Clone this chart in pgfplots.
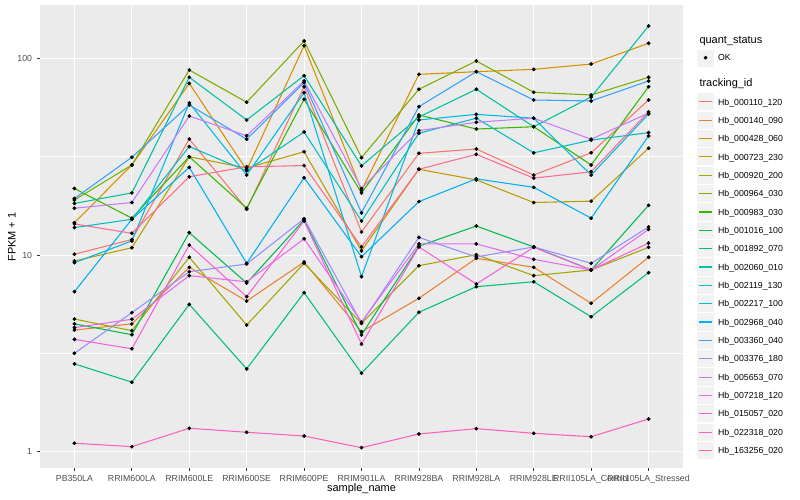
\documentclass[border=0pt]{standalone}
\usepackage{pgfplots}
\pgfplotsset{compat=1.18}
\usepackage{pgfplotstable}
\usepackage{fontspec}
\setmainfont{Liberation Sans}

\definecolor{panelbg}{HTML}{EBEBEB}
\definecolor{keybg}{HTML}{F2F2F2}
\definecolor{gray20}{HTML}{333333}
\definecolor{gray30}{HTML}{4D4D4D}
\definecolor{c01}{HTML}{F8766D}
\definecolor{c02}{HTML}{EA8331}
\definecolor{c03}{HTML}{D89000}
\definecolor{c04}{HTML}{C09B00}
\definecolor{c05}{HTML}{A3A500}
\definecolor{c06}{HTML}{7CAE00}
\definecolor{c07}{HTML}{39B600}
\definecolor{c08}{HTML}{00BB4E}
\definecolor{c09}{HTML}{00BF7D}
\definecolor{c10}{HTML}{00C1A3}
\definecolor{c11}{HTML}{00BFC4}
\definecolor{c12}{HTML}{00BAE0}
\definecolor{c13}{HTML}{00B0F6}
\definecolor{c14}{HTML}{35A2FF}
\definecolor{c15}{HTML}{9590FF}
\definecolor{c16}{HTML}{C77CFF}
\definecolor{c17}{HTML}{E76BF3}
\definecolor{c18}{HTML}{FA62DB}
\definecolor{c19}{HTML}{FF62BC}
\definecolor{c20}{HTML}{FF6C90}

% FPKM + 1 per sample (x = sample index), one column per tracking_id
% c01 Hb_000110_120 ... c20 Hb_163256_020 (legend order)
\pgfplotstableread{
x  c01  c02  c03   c04  c05   c06   c07  c08   c09  c10   c11  c12  c13  c14  c15  c16  c17  c18   c19   c20
0  10.1 4.16 14.6  9.33 4.73  19.05 21.8 4.47  2.80 18.3  13.8 9.15 6.52 19.4 3.17 17.3 4.28 3.73  1.106 14.4
1  12.0 4.47 28.7  10.9 4.13  28.7  15.4 3.94  2.26 20.7  15.2 11.8 15.2 31.4 5.10 18.5 4.72 3.34  1.063 12.9
2  38.9 8.67 74.6  31.6 9.75  87.2  31.6 13.0  5.62 80.1  35.6 59.3 27.9 57.9 8.23 50.9 7.86 11.25 1.318 25.0
3  17.1 5.84 27.1  27.7 4.41  59.8  17.3 7.21  2.64 48.6  26.8 25.5 9.08 38.8 9.01 40.4 7.32 6.15  1.258 28.1
4  71.7 9.22 115.9 33.5 9.08  122.4 61.9 15.1  6.44 81.6  42.2 66.9 24.7 75.2 15.3 76.7 12.1 14.9  1.204 28.5
5  13.1 4.08 21.3  10.5 4.50  31.3  20.7 3.93  2.51 28.4  14.9 7.77 9.81 16.4 4.52 21.8 4.57 3.53  1.050 11.0
6  32.9 6.03 82.9  27.3 8.83  69.6  51.5 11.1  5.12 50.3  41.6 48.6 18.7 56.8 12.3 42.9 11.4 11.0  1.233 27.3
7  34.6 9.63 85.5  24.1 10.05 96.9  43.7 14.05 6.91 69.6  49.6 51.9 24.4 85.5 9.78 47.3 11.4 7.13  1.312 32.5
8  25.5 8.67 87.9  18.5 7.86  67.2  44.9 11.0  7.32 44.9  33.1 49.6 22.1 61.4 11.0 49.6 9.52 10.95 1.243 24.6
9  33.1 5.69 93.5  18.8 8.40  65.1  28.7 8.40  4.86 63.6  38.4 25.5 15.4 60.7 9.08 38.8 8.40 8.40  1.194 26.5
10 61.4 9.75 119.2 34.9 10.95 80.1  71.7 17.9  8.14 145.9 41.9 52.1 40.3 76.7 13.9 52.7 13.5 11.5  1.469 53.4
}\fpkm

\begin{document}
\begin{tikzpicture}
\useasboundingbox (0bp,0bp) rectangle (800bp,500bp);
\begin{axis}[
  at={(40bp,32bp)}, anchor=south west,
  scale only axis, width=643bp, height=463bp,
  ymode=log, ymin=0.828, ymax=186.6,
  xmin=-0.6, xmax=10.6,
  xtick={0,1,2,3,4,5,6,7,8,9,10},
  xticklabels={PB350LA,RRIM600LA,RRIM600LE,RRIM600SE,RRIM600PE,RRIM901LA,RRIM928BA,RRIM928LA,RRIM928LE,RRII105LA\_Control,RRII105LA\_Stressed},
  ytick={1,10,100}, yticklabels={1,10,100},
  minor ytick={3.16228,31.6228},
  xmajorgrids, ymajorgrids, yminorgrids,
  major grid style={white, line width=1.07bp},
  minor grid style={white, line width=0.53bp},
  axis background/.style={fill=panelbg},
  axis line style={draw=none},
  tick pos=left, tick align=outside,
  major tick length=2.75bp, minor tick length=0pt,
  tick style={gray20, line width=0.8bp},
  ticklabel style={font=\fontsize{8.8}{10.5}\selectfont, text=gray30},
  xticklabel style={anchor=base, inner sep=0pt, yshift=-11bp},
  yticklabel style={anchor=east, inner sep=0pt, xshift=-5bp},
  xlabel={sample\_name}, ylabel={FPKM + 1},
  label style={font=\fontsize{11}{13}\selectfont, text=black},
  xlabel style={at={(axis description cs:0.5,-0.0443)}, anchor=center},
  ylabel style={at={(axis description cs:-0.0436,0.4989)}, anchor=center, rotate=0},
  legend style={
    at={(axis description cs:1.02177,0.90389)}, anchor=north west,
    draw=none, fill=none, inner sep=0pt, outer sep=0pt,
    row sep=1.27bp, column sep=4bp,
    font=\fontsize{8.8}{10.5}\selectfont,
    nodes={inner sep=0pt, text depth=0pt},
  },
  legend cell align=left,
  legend image code/.code={
    \fill[keybg] (0bp,-8bp) rectangle (16bp,8bp);
    \draw[#1, line width=1.07bp] (1.5bp,0bp) -- (14.5bp,0bp);
  },
]
\addlegendimage{legend image code/.code={
    \fill[keybg] (0bp,-8bp) rectangle (16bp,8bp);
    \draw plot[mark=*, mark size=1.7bp, mark options={black}] coordinates {(8bp,0bp)};}}
\addlegendentry{OK}
\addlegendimage{empty legend}
\addlegendentry{\rule{0pt}{24.96bp}}

\addplot[c01, line width=1.07bp, line join=round] table[x=x,y=c01]{\fpkm}; \addlegendentry{Hb\_000110\_120}
\addplot[c02, line width=1.07bp, line join=round] table[x=x,y=c02]{\fpkm}; \addlegendentry{Hb\_000140\_090}
\addplot[c03, line width=1.07bp, line join=round] table[x=x,y=c03]{\fpkm}; \addlegendentry{Hb\_000428\_060}
\addplot[c04, line width=1.07bp, line join=round] table[x=x,y=c04]{\fpkm}; \addlegendentry{Hb\_000723\_230}
\addplot[c05, line width=1.07bp, line join=round] table[x=x,y=c05]{\fpkm}; \addlegendentry{Hb\_000920\_200}
\addplot[c06, line width=1.07bp, line join=round] table[x=x,y=c06]{\fpkm}; \addlegendentry{Hb\_000964\_030}
\addplot[c07, line width=1.07bp, line join=round] table[x=x,y=c07]{\fpkm}; \addlegendentry{Hb\_000983\_030}
\addplot[c08, line width=1.07bp, line join=round] table[x=x,y=c08]{\fpkm}; \addlegendentry{Hb\_001016\_100}
\addplot[c09, line width=1.07bp, line join=round] table[x=x,y=c09]{\fpkm}; \addlegendentry{Hb\_001892\_070}
\addplot[c10, line width=1.07bp, line join=round] table[x=x,y=c10]{\fpkm}; \addlegendentry{Hb\_002060\_010}
\addplot[c11, line width=1.07bp, line join=round] table[x=x,y=c11]{\fpkm}; \addlegendentry{Hb\_002119\_130}
\addplot[c12, line width=1.07bp, line join=round] table[x=x,y=c12]{\fpkm}; \addlegendentry{Hb\_002217\_100}
\addplot[c13, line width=1.07bp, line join=round] table[x=x,y=c13]{\fpkm}; \addlegendentry{Hb\_002968\_040}
\addplot[c14, line width=1.07bp, line join=round] table[x=x,y=c14]{\fpkm}; \addlegendentry{Hb\_003360\_040}
\addplot[c15, line width=1.07bp, line join=round] table[x=x,y=c15]{\fpkm}; \addlegendentry{Hb\_003376\_180}
\addplot[c16, line width=1.07bp, line join=round] table[x=x,y=c16]{\fpkm}; \addlegendentry{Hb\_005653\_070}
\addplot[c17, line width=1.07bp, line join=round] table[x=x,y=c17]{\fpkm}; \addlegendentry{Hb\_007218\_120}
\addplot[c18, line width=1.07bp, line join=round] table[x=x,y=c18]{\fpkm}; \addlegendentry{Hb\_015057\_020}
\addplot[c19, line width=1.07bp, line join=round] table[x=x,y=c19]{\fpkm}; \addlegendentry{Hb\_022318\_020}
\addplot[c20, line width=1.07bp, line join=round] table[x=x,y=c20]{\fpkm}; \addlegendentry{Hb\_163256\_020}

\pgfplotsinvokeforeach{c01,c02,c03,c04,c05,c06,c07,c08,c09,c10,c11,c12,c13,c14,c15,c16,c17,c18,c19,c20}{
  \addplot[forget plot, only marks, mark=*, mark size=1.7bp, black] table[x=x,y=#1]{\fpkm};
}
\end{axis}
\node[anchor=base west, font=\fontsize{11}{13}\selectfont] at (696bp,456.7bp) {quant\_status};
\node[anchor=base west, font=\fontsize{11}{13}\selectfont] at (696bp,413.3bp) {tracking\_id};
\end{tikzpicture}
\end{document}
